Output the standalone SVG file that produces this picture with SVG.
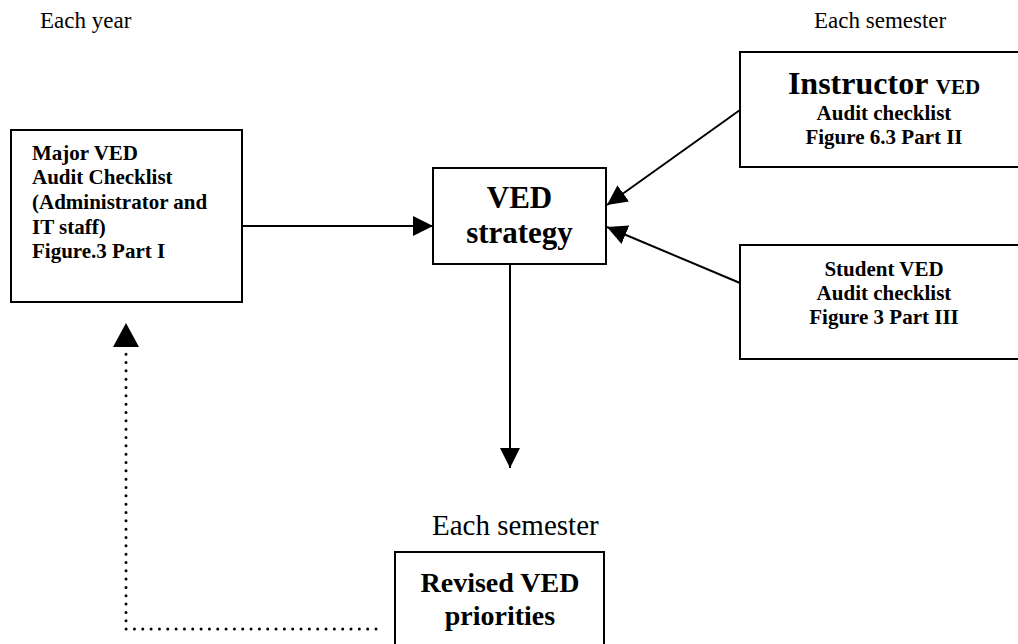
<svg xmlns="http://www.w3.org/2000/svg" width="1018" height="644" viewBox="0 0 1018 644">
<style>
.box{fill:#fff;stroke:#000;stroke-width:2}
.b{font-family:"Liberation Serif","Times New Roman",serif;font-weight:bold;fill:#000}
.r{font-family:"Liberation Serif","Times New Roman",serif;fill:#000}
.ln{stroke:#000;stroke-width:2;fill:none}
.dot{stroke:#000;stroke-width:3;fill:none;stroke-linecap:round;stroke-dasharray:0 8.33}
</style>
<defs>
<marker id="ah" viewBox="0 0 20 20" refX="20" refY="10" markerWidth="20" markerHeight="20" markerUnits="userSpaceOnUse" orient="auto">
<path d="M0,0 L20,10 L0,20 Z" fill="#000"/>
</marker>
</defs>
<rect width="1018" height="644" fill="#fff"/>
<text class="r" x="40" y="28" font-size="23">Each year</text>
<text class="r" x="814" y="28" font-size="23">Each semester</text>
<text class="r" x="432" y="535" font-size="29">Each semester</text>
<g id="major">
<rect class="box" x="11" y="130" width="231" height="172"/>
<text class="b" font-size="21"><tspan x="32" y="160">Major VED</tspan><tspan x="32" y="184">Audit Checklist</tspan><tspan x="32" y="209">(Administrator and</tspan><tspan x="32" y="234">IT staff)</tspan><tspan x="32" y="258">Figure.3 Part I</tspan></text>
</g>
<g id="strategy">
<rect class="box" x="433" y="168" width="173" height="96"/>
<text class="b" font-size="31" text-anchor="middle"><tspan x="519.5" y="208">VED</tspan><tspan x="519.5" y="243">strategy</tspan></text>
</g>
<g id="instructor">
<rect class="box" x="740" y="52" width="290" height="115"/>
<text class="b" text-anchor="middle"><tspan x="884" y="94" font-size="32">Instructor <tspan font-size="21">VED</tspan></tspan><tspan x="884" y="120" font-size="21">Audit checklist</tspan><tspan x="884" y="144" font-size="21">Figure 6.3 Part II</tspan></text>
</g>
<g id="student">
<rect class="box" x="740" y="245" width="290" height="114"/>
<text class="b" font-size="21" text-anchor="middle"><tspan x="884" y="276">Student VED</tspan><tspan x="884" y="300">Audit checklist</tspan><tspan x="884" y="324">Figure 3 Part III</tspan></text>
</g>
<g id="revised">
<rect class="box" x="395" y="552" width="209" height="110"/>
<text class="b" font-size="28" text-anchor="middle"><tspan x="500" y="592">Revised VED</tspan><tspan x="500" y="625">priorities</tspan></text>
</g>
<g id="connectors">
<line class="ln" x1="242" y1="226" x2="433" y2="226" marker-end="url(#ah)"/>
<line class="ln" x1="740" y1="110" x2="607" y2="205" marker-end="url(#ah)"/>
<line class="ln" x1="740" y1="283" x2="607" y2="227" marker-end="url(#ah)"/>
<line class="ln" x1="510" y1="264" x2="510" y2="468" marker-end="url(#ah)"/>
<polyline class="dot" points="376,629 126,629 126,350"/>
<path d="M126,323 L139,347 L113,347 Z" fill="#000"/>
</g>
</svg>
